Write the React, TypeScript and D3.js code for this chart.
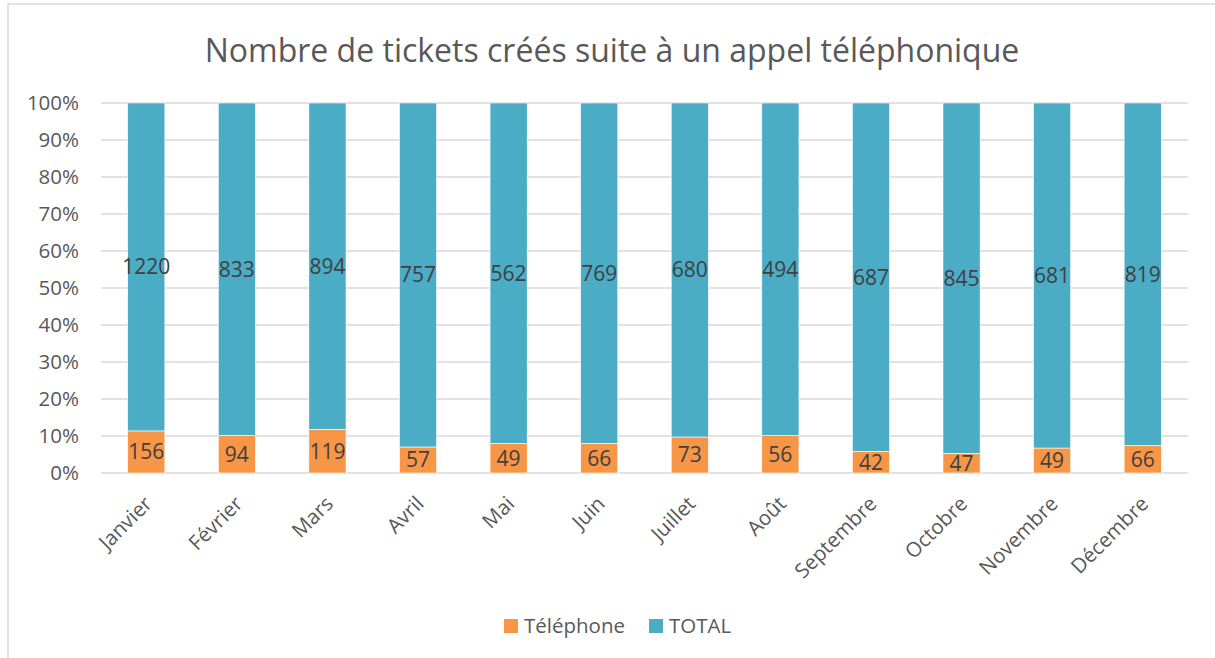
import React from "react";
import * as d3 from "d3";

const months = ["Janvier","Février","Mars","Avril","Mai","Juin","Juillet","Août","Septembre","Octobre","Novembre","Décembre"];
const telephone = [156,94,119,57,49,66,73,56,42,47,49,66];
const total = [1220,833,894,757,562,769,680,494,687,845,681,819];
const yTicks = [0,0.1,0.2,0.3,0.4,0.5,0.6,0.7,0.8,0.9,1];
const seriesNames = ["Téléphone","TOTAL"];
const colors = ["#F79646","#4BACC6"];

const W = 1215, H = 658;
const M = { left: 101, right: 1188, top: 103, bottom: 473 };
const FONT = "'Open Sans', sans-serif";

export default function App() {
  const x = d3.scaleBand().domain(months).range([M.left, M.right]).paddingInner(0.59).paddingOuter(0.295);
  const y = d3.scaleLinear().domain([0, 1]).range([M.bottom, M.top]);
  const data = months.map((m, i) => ({ m, t: telephone[i], tot: total[i], p: telephone[i] / (telephone[i] + total[i]) }));
  const fmt = d3.format(".0%");
  return (
    <svg width={W} height={H} style={{ position: "absolute", left: 0, top: 0, background: "#fff" }} fontFamily={FONT}>
      <rect x={8} y={4} width={W + 10} height={H + 10} fill="#fff" stroke="#D9D9D9" strokeWidth={1.5} />
      <text x={612} y={62} textAnchor="middle" fontSize={32} fill="#595959">Nombre de tickets créés suite à un appel téléphonique</text>
      {yTicks.map((t) => (
        <g key={t}>
          <line x1={M.left} x2={M.right} y1={y(t)} y2={y(t)} stroke="#D9D9D9" strokeWidth={1.5} />
          <text x={79} y={y(t)} dy="0.35em" textAnchor="end" fontSize={20.5} fill="#595959">{fmt(t)}</text>
        </g>
      ))}
      {data.map((d) => {
        const bx = x(d.m)!;
        const bw = x.bandwidth();
        const cx = bx + bw / 2;
        return (
          <g key={d.m}>
            <rect x={bx} y={y(1)} width={bw} height={y(d.p) - y(1)} fill={colors[1]} stroke="#fff" strokeWidth={0.6} />
            <rect x={bx} y={y(d.p)} width={bw} height={y(0) - y(d.p)} fill={colors[0]} stroke="#fff" strokeWidth={0.6} />
            <text x={cx} y={y((d.p + 1) / 2)} dy="0.35em" textAnchor="middle" fontSize={21} fill="#404040">{d.tot}</text>
            <text x={cx} y={y(d.p / 2)} dy="0.35em" textAnchor="middle" fontSize={21} fill="#404040">{d.t}</text>
            <text transform={`translate(${cx + 7},${505}) rotate(-45)`} textAnchor="end" fontSize={20.5} fill="#595959">{d.m}</text>
          </g>
        );
      })}
      {seriesNames.map((s, i) => {
        const lx = i === 0 ? 504 : 649;
        return (
          <g key={s}>
            <rect x={lx} y={619} width={14} height={14} fill={colors[i]} />
            <text x={lx + 20} y={626} dy="0.35em" fontSize={20.5} fill="#595959">{s}</text>
          </g>
        );
      })}
    </svg>
  );
}
